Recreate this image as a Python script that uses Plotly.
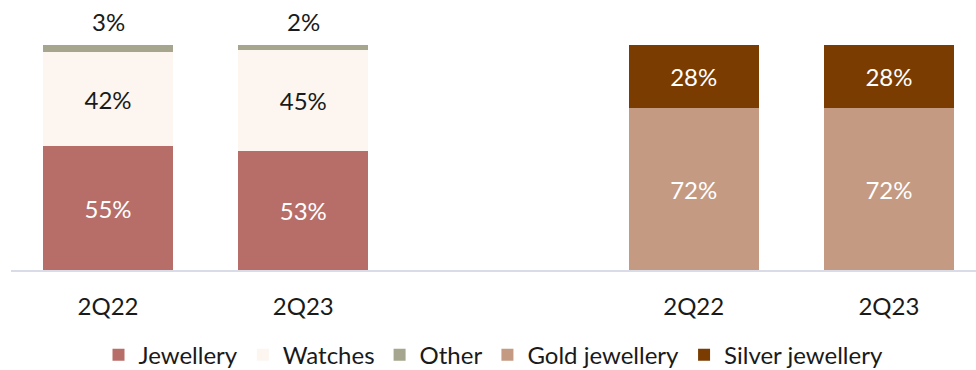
import plotly.graph_objects as go

# Sales mix by quarter (percent of sales)
quarters = ["2Q22", "2Q23"]
jewellery = [55, 53]
watches = [42, 45]
other = [3, 2]
gold_jewellery = [72, 72]
silver_jewellery = [28, 28]

# x positions of the two groups of stacked bars (gap between groups)
left_x = [0, 1]
right_x = [3, 4]
bar_width = 0.666

font_family = "Lato, 'Open Sans', sans-serif"
label_size = 24

fig = go.Figure()


def add_segment(x, y, name, color, text_color, show_text=True):
    fig.add_trace(go.Bar(
        x=x, y=y, name=name, width=bar_width,
        marker=dict(color=color, line=dict(width=0)),
        text=[f"{v}%" for v in y] if show_text else None,
        textposition="inside" if show_text else "none",
        insidetextanchor="middle",
        insidetextfont=dict(color=text_color, size=label_size, family=font_family),
        constraintext="none",
        hoverinfo="skip",
    ))


add_segment(left_x, jewellery, "Jewellery", "#B76E69", "#FFFFFF")
add_segment(left_x, watches, "Watches", "#FDF6F0", "#1A1A1A")
add_segment(left_x, other, "Other", "#A6A68E", "#1A1A1A", show_text=False)
add_segment(right_x, gold_jewellery, "Gold jewellery", "#C49A82", "#FFFFFF")
add_segment(right_x, silver_jewellery, "Silver jewellery", "#7A3C00", "#FFFFFF")

# Small "Other" shares are labelled above the top of each stack
for xi, j, w, o in zip(left_x, jewellery, watches, other):
    fig.add_annotation(
        x=xi, y=j + w + o, text=f"{o}%", showarrow=False,
        yanchor="bottom", yshift=7,
        font=dict(size=label_size, color="#1A1A1A", family=font_family),
    )

fig.update_layout(
    barmode="stack",
    width=976, height=370,
    margin=dict(l=11, r=0, t=5, b=100, autoexpand=False),
    paper_bgcolor="white", plot_bgcolor="white",
    font=dict(family=font_family, size=label_size, color="#1A1A1A"),
    showlegend=True,
    legend=dict(
        orientation="h", x=0.5, xanchor="center",
        yref="container", y=0.04, yanchor="middle",
        font=dict(size=label_size, color="#1A1A1A", family=font_family),
        traceorder="normal", itemclick=False, itemdoubleclick=False,
    ),
    xaxis=dict(
        range=[-0.497, 4.446],
        tickmode="array",
        tickvals=left_x + right_x,
        ticktext=quarters + quarters,
        showgrid=False, zeroline=False,
        showline=True, linecolor="#D9DCE6", linewidth=1.5,
        ticks="outside", ticklen=14, tickcolor="rgba(0,0,0,0)",
        tickfont=dict(size=label_size, color="#1A1A1A", family=font_family),
    ),
    yaxis=dict(
        range=[0, 117.8], visible=False, showgrid=False, zeroline=False,
    ),
)

fig.write_html("out.html")
